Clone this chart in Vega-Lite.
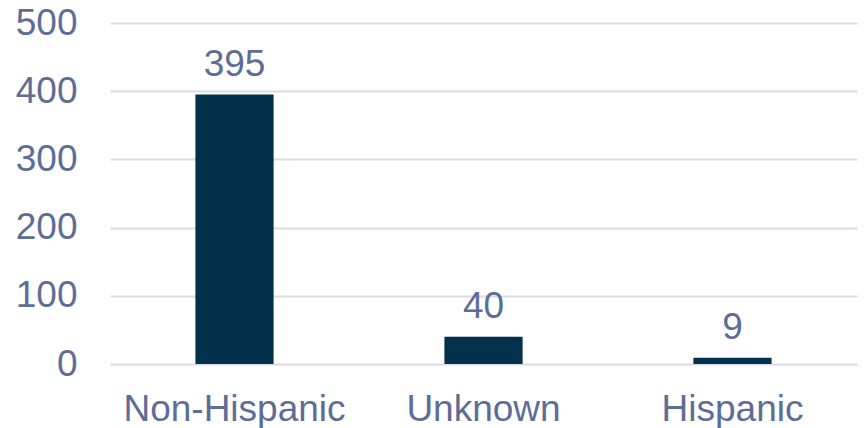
{
  "$schema": "https://vega.github.io/schema/vega-lite/v6.json",
  "autosize": "none",
  "width": 747,
  "height": 341,
  "padding": {"left": 110, "top": 23, "right": 8, "bottom": 64},
  "background": "white",
  "data": {"values": [
    {"category": "Non-Hispanic", "count": 395},
    {"category": "Unknown", "count": 40},
    {"category": "Hispanic", "count": 9}
  ]},
  "config": {
    "view": {"stroke": null},
    "font": "Liberation Sans"
  },
  "encoding": {
    "x": {"field": "category", "type": "nominal", "sort": null,
      "scale": {"paddingInner": 0.686, "paddingOuter": 0.343},
      "axis": {"title": null, "labelAngle": 0, "ticks": false, "domain": false, "labelFontSize": 37, "labelLimit": 0, "labelColor": "#5e6d96", "labelPadding": 27, "labelFont": "Liberation Sans"}},
    "y": {"field": "count", "type": "quantitative",
      "scale": {"domain": [0, 500]},
      "axis": {"title": null, "values": [0, 100, 200, 300, 400, 500], "ticks": false, "domain": false, "labelFontSize": 37, "labelColor": "#5e6d96", "labelPadding": 33, "gridColor": "#d9dbe7", "gridWidth": 2, "labelFont": "Liberation Sans"}}
  },
  "layer": [
    {"mark": {"type": "bar", "color": "#03304a"}},
    {"mark": {"type": "text", "baseline": "alphabetic", "dy": -19, "fontSize": 37, "color": "#5e6d96", "font": "Liberation Sans"},
     "encoding": {"text": {"field": "count", "type": "quantitative"}}}
  ]
}
